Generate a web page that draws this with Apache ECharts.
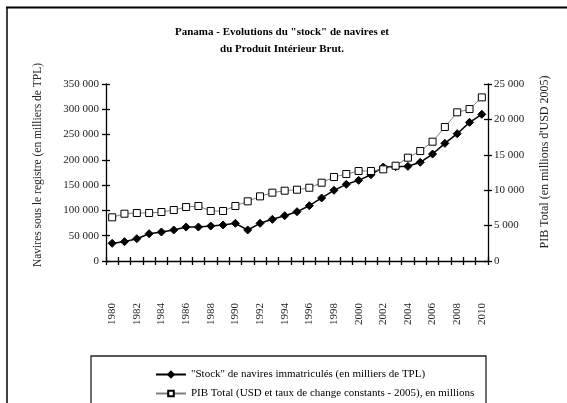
<!DOCTYPE html>
<html>
<head>
<meta charset="utf-8">
<script src="https://cdn.jsdelivr.net/npm/echarts@6/dist/echarts.min.js"></script>
<style>html,body{margin:0;padding:0;background:#fff}#c{width:567px;height:403px}</style>
</head>
<body>
<div id="c"></div>
<script>
const years = [];
for (let y = 1980; y <= 2010; y++) years.push(String(y));
const stockNavires = [35000,38200,44100,54000,57300,61300,67200,67200,69200,71200,74500,61300,74500,82400,89600,97500,109300,124600,139800,151600,159500,170600,185800,186500,187200,195100,211500,232600,251700,274200,290000];
const pibTotal = [6170,6680,6780,6780,6920,7200,7620,7770,7060,7060,7770,8430,9130,9650,9930,10070,10350,11060,11860,12280,12710,12710,12950,13460,14590,15530,16850,18920,21000,21460,23110];
const titleText = 'Panama - Evolutions du "stock" de navires et\ndu Produit Intérieur Brut.';
const nameStock = '"Stock" de navires immatriculés (en milliers de TPL)';
const namePib = 'PIB Total (USD et taux de change constants - 2005), en millions';
const leftTitle = 'Navires sous le registre (en milliers de TPL)';
const rightTitle = "PIB Total (en millions d'USD 2005)";

const FONT = '"Liberation Serif", "DejaVu Serif", serif';
const fmt = v => String(v).replace(/\B(?=(\d{3})+(?!\d))/g, ' ');

const chart = echarts.init(document.getElementById('c'), null, {renderer: 'canvas'});
const axLine = {show: true, lineStyle: {color: '#000', width: 1.3}};
const tickOut = {show: true, length: 4, lineStyle: {color: '#000', width: 1.3}};
const tickIn = {show: true, inside: true, length: 4, lineStyle: {color: '#000', width: 1.3}};
chart.setOption({
  animation: false,
  backgroundColor: '#fff',
  textStyle: {fontFamily: FONT},
  title: {
    text: titleText, left: 277, top: 19, textAlign: 'center',
    textStyle: {fontFamily: FONT, fontSize: 11, fontWeight: 'bold', color: '#000', lineHeight: 17}
  },
  grid: {left: 106, right: 79, top: 84, bottom: 142, containLabel: false},
  legend: {
    orient: 'vertical', left: 150, top: 364, height: 60, itemGap: 8, itemWidth: 30, itemHeight: 7,
    textStyle: {fontFamily: FONT, fontSize: 11, color: '#000'},
    data: [nameStock, namePib]
  },
  xAxis: [{
    type: 'category', data: years, boundaryGap: true,
    axisLine: axLine, axisTick: Object.assign({interval: 0}, tickOut),
    axisLabel: {interval: 1, rotate: 90, margin: 42, fontFamily: FONT, fontSize: 11, color: '#222'},
    splitLine: {show: false}
  }, {
    type: 'category', data: years, boundaryGap: true, position: 'bottom',
    axisLine: {show: false}, axisTick: Object.assign({interval: 0}, tickIn),
    axisLabel: {show: false}, splitLine: {show: false}
  }],
  yAxis: [{
    type: 'value', min: 0, max: 350000, interval: 50000, position: 'left',
    axisLine: axLine, axisTick: tickOut,
    axisLabel: {formatter: fmt, margin: 7, fontFamily: FONT, fontSize: 11, color: '#222'},
    splitLine: {show: false}
  }, {
    type: 'value', min: 0, max: 25000, interval: 5000, position: 'right',
    axisLine: axLine, axisTick: tickOut,
    axisLabel: {formatter: fmt, margin: 6, fontFamily: FONT, fontSize: 11, color: '#222'},
    splitLine: {show: false}
  }, {
    type: 'value', min: 0, max: 350000, interval: 50000, position: 'left',
    axisLine: {show: false}, axisTick: tickIn, axisLabel: {show: false}, splitLine: {show: false}
  }, {
    type: 'value', min: 0, max: 25000, interval: 5000, position: 'right',
    axisLine: {show: false}, axisTick: tickIn, axisLabel: {show: false}, splitLine: {show: false}
  }],
  series: [{
    name: nameStock, type: 'line', data: stockNavires, xAxisIndex: 0, yAxisIndex: 0,
    symbol: 'diamond', symbolSize: 8, showAllSymbol: true,
    lineStyle: {color: '#000', width: 1.5},
    itemStyle: {color: '#000', borderColor: '#000', borderWidth: 1}
  }, {
    name: namePib, type: 'line', data: pibTotal, xAxisIndex: 0, yAxisIndex: 1,
    symbol: 'rect', symbolSize: 7, showAllSymbol: true,
    lineStyle: {color: '#808080', width: 1},
    itemStyle: {color: '#fff', borderColor: '#000', borderWidth: 1}
  }],
  graphic: [
    {type: 'line', shape: {x1: 6, y1: 7.5, x2: 567, y2: 7.5}, style: {stroke: '#000', lineWidth: 2}, silent: true},
    {type: 'line', shape: {x1: 7, y1: 7, x2: 7, y2: 403}, style: {stroke: '#000', lineWidth: 1.5}, silent: true},
    {type: 'rect', shape: {x: 91, y: 356, width: 395, height: 60}, style: {fill: 'none', stroke: '#222', lineWidth: 1.3}, silent: true, z: -1},
    {type: 'text', x: 38, y: 165, rotation: Math.PI / 2, silent: true,
     style: {text: leftTitle, font: '11.5px ' + FONT, fill: '#222', align: 'center', verticalAlign: 'middle'}},
    {type: 'text', x: 545, y: 162, rotation: Math.PI / 2, silent: true,
     style: {text: rightTitle, font: '12px ' + FONT, fill: '#222', align: 'center', verticalAlign: 'middle'}}
  ]
});
</script>
</body>
</html>
